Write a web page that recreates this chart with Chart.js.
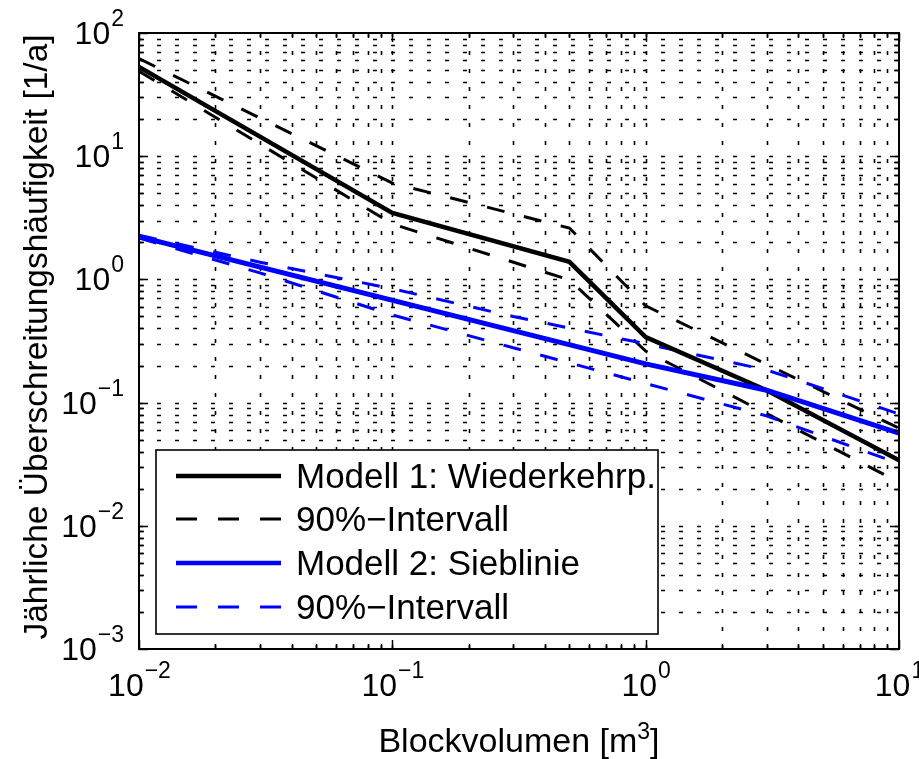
<!DOCTYPE html>
<html>
<head>
<meta charset="utf-8">
<script src="https://cdn.jsdelivr.net/npm/chart.js@4.4.1/dist/chart.umd.min.js"></script>
<style>
  html, body { margin: 0; padding: 0; background: #fff; }
  canvas { display: block; }
</style>
</head>
<body>
<canvas id="chart" width="919" height="759"></canvas>
<script>
// Modell 1 (Wiederkehrperioden) – Blockvolumen [m3] vs. Häufigkeit [1/a]
const volModel1 = [0.01, 0.1, 0.5, 1, 3, 10];
const freqModel1 = [53, 3.46, 1.39, 0.34, 0.126, 0.034];
const volModel1Band = [0.01, 0.1, 0.5, 1, 10];
const freqModel1Upper = [62, 6.05, 2.61, 0.61, 0.062];
const freqModel1Lower = [49, 2.82, 0.99, 0.262, 0.0226];

// Modell 2 (Sieblinie)
const volModel2 = [0.01, 1, 3, 10];
const freqModel2 = [2.22, 0.206, 0.126, 0.0566];
const volModel2Band = [0.01, 0.03, 0.1, 0.3, 1, 3, 10];
const freqModel2Upper = [2.28, 1.38, 0.84, 0.50, 0.30, 0.184, 0.081];
const freqModel2Lower = [2.17, 1.13, 0.515, 0.279, 0.143, 0.078, 0.032];

const legendLabels = ['Modell 1: Wiederkehrp.', '90%\u2212Intervall', 'Modell 2: Sieblinie', '90%\u2212Intervall'];
const xDecades = [-2, -1, 0, 1];
const yDecades = [-3, -2, -1, 0, 1, 2];

const FONT = '"Liberation Sans", Arial, Helvetica, sans-serif';
const BLUE = '#0000ff';
const DASH = [18, 20];

const pts = (xs, ys) => xs.map((x, i) => ({ x: x, y: ys[i] }));

// tick positions (major + minor) for each decade
function logTicks(decades) {
  const out = [];
  for (let i = 0; i < decades.length; i++) {
    const base = Math.pow(10, decades[i]);
    out.push({ v: base, major: true });
    if (i < decades.length - 1) {
      for (let k = 2; k <= 9; k++) out.push({ v: k * base, major: false });
    }
  }
  return out;
}

// "10" with a raised exponent, e.g. 10^-2
function drawPower(ctx, exp, x, baseline, align) {
  const expText = exp < 0 ? '\u2212' + Math.abs(exp) : String(exp);
  ctx.font = '32px ' + FONT;
  const wBase = ctx.measureText('10').width;
  ctx.font = '23px ' + FONT;
  const wExp = ctx.measureText(expText).width;
  const w = wBase + wExp;
  const left = align === 'center' ? x - w / 2 : x - w;
  ctx.textAlign = 'left';
  ctx.textBaseline = 'alphabetic';
  ctx.font = '32px ' + FONT;
  ctx.fillText('10', left, baseline);
  ctx.font = '23px ' + FONT;
  ctx.fillText(expText, left + wBase + 1, baseline - 18);
}

const frame = {
  id: 'frame',
  beforeDatasetsDraw(chart) {
    const { ctx, chartArea: a, scales: { x, y } } = chart;
    ctx.save();
    ctx.strokeStyle = '#000';
    ctx.lineWidth = 1.6;
    ctx.setLineDash([4, 14]);
    logTicks(xDecades).forEach(t => {
      const px = Math.round(x.getPixelForValue(t.v)) + 0.5;
      if (px <= a.left + 1 || px >= a.right - 1) return;
      ctx.beginPath();
      ctx.moveTo(px, a.bottom);
      ctx.lineTo(px, a.top);
      ctx.stroke();
    });
    logTicks(yDecades).forEach(t => {
      const py = Math.round(y.getPixelForValue(t.v)) + 0.5;
      if (py <= a.top + 1 || py >= a.bottom - 1) return;
      ctx.beginPath();
      ctx.moveTo(a.left, py);
      ctx.lineTo(a.right, py);
      ctx.stroke();
    });
    ctx.restore();
  },
  afterDatasetsDraw(chart) {
    const { ctx, chartArea: a, scales: { x, y } } = chart;
    ctx.save();

    // legend box
    const box = { l: 156, t: 450, r: 658, b: 634 };
    ctx.fillStyle = '#fff';
    ctx.fillRect(box.l, box.t, box.r - box.l, box.b - box.t);
    ctx.strokeStyle = '#000';
    ctx.lineWidth = 1.6;
    ctx.strokeRect(box.l, box.t, box.r - box.l, box.b - box.t);
    const rows = [476, 519, 563, 607];
    const styles = [
      { c: '#000', w: 4.5, d: [] },
      { c: '#000', w: 3, d: [21, 21] },
      { c: BLUE, w: 4.5, d: [] },
      { c: BLUE, w: 3, d: [21, 21] }
    ];
    rows.forEach((ry, i) => {
      const s = styles[i];
      ctx.strokeStyle = s.c;
      ctx.lineWidth = s.w;
      ctx.setLineDash(s.d);
      ctx.beginPath();
      ctx.moveTo(176, ry);
      ctx.lineTo(281, ry);
      ctx.stroke();
      ctx.setLineDash([]);
      ctx.fillStyle = '#000';
      ctx.font = '35px ' + FONT;
      ctx.textAlign = 'left';
      ctx.textBaseline = 'alphabetic';
      ctx.fillText(legendLabels[i], 296, ry + 12);
    });

    // axes box and inward ticks
    ctx.setLineDash([]);
    ctx.strokeStyle = '#000';
    ctx.lineWidth = 2;
    ctx.strokeRect(a.left, a.top, a.right - a.left, a.bottom - a.top);
    ctx.lineWidth = 1.5;
    logTicks(xDecades).forEach(t => {
      const px = Math.round(x.getPixelForValue(t.v)) + 0.5;
      const len = t.major ? 9 : 5;
      ctx.beginPath();
      ctx.moveTo(px, a.bottom);
      ctx.lineTo(px, a.bottom - len);
      ctx.moveTo(px, a.top);
      ctx.lineTo(px, a.top + len);
      ctx.stroke();
    });
    logTicks(yDecades).forEach(t => {
      const py = Math.round(y.getPixelForValue(t.v)) + 0.5;
      const len = t.major ? 9 : 5;
      ctx.beginPath();
      ctx.moveTo(a.left, py);
      ctx.lineTo(a.left + len, py);
      ctx.moveTo(a.right, py);
      ctx.lineTo(a.right - len, py);
      ctx.stroke();
    });

    // tick labels
    ctx.fillStyle = '#000';
    xDecades.forEach(e => {
      drawPower(ctx, e, x.getPixelForValue(Math.pow(10, e)), a.bottom + 47, 'center');
    });
    yDecades.forEach(e => {
      drawPower(ctx, e, a.left - 16, y.getPixelForValue(Math.pow(10, e)) + 11, 'right');
    });

    // x axis title with superscript
    ctx.font = '34px ' + FONT;
    const t1 = 'Blockvolumen [m';
    const w1 = ctx.measureText(t1).width;
    const w3 = ctx.measureText(']').width;
    ctx.font = '23px ' + FONT;
    const w2 = ctx.measureText('3').width;
    const cx = (a.left + a.right) / 2;
    const tx = cx - (w1 + w2 + w3) / 2;
    ctx.textAlign = 'left';
    ctx.font = '34px ' + FONT;
    ctx.fillText(t1, tx, 752);
    ctx.font = '23px ' + FONT;
    ctx.fillText('3', tx + w1, 739);
    ctx.font = '34px ' + FONT;
    ctx.fillText(']', tx + w1 + w2, 752);

    // y axis title
    ctx.translate(47, (a.top + a.bottom) / 2 - 4);
    ctx.rotate(-Math.PI / 2);
    ctx.textAlign = 'center';
    ctx.textBaseline = 'alphabetic';
    ctx.font = '33.5px ' + FONT;
    ctx.fillText('Jährliche Überschreitungshäufigkeit [1/a]', 0, 0);

    ctx.restore();
  }
};

new Chart(document.getElementById('chart'), {
  type: 'line',
  data: {
    datasets: [
      { label: legendLabels[0], data: pts(volModel1, freqModel1), borderColor: '#000', borderWidth: 4.5, order: 1 },
      { label: legendLabels[1], data: pts(volModel1Band, freqModel1Upper), borderColor: '#000', borderWidth: 3, borderDash: DASH, order: 3 },
      { label: legendLabels[1], data: pts(volModel1Band, freqModel1Lower), borderColor: '#000', borderWidth: 3, borderDash: DASH, order: 3 },
      { label: legendLabels[2], data: pts(volModel2, freqModel2), borderColor: BLUE, borderWidth: 5, order: 0 },
      { label: legendLabels[3], data: pts(volModel2Band, freqModel2Upper), borderColor: BLUE, borderWidth: 3, borderDash: DASH, order: 2 },
      { label: legendLabels[3], data: pts(volModel2Band, freqModel2Lower), borderColor: BLUE, borderWidth: 3, borderDash: DASH, order: 2 }
    ]
  },
  options: {
    responsive: false,
    animation: false,
    devicePixelRatio: 1,
    layout: { padding: { left: 139, right: 20, top: 33, bottom: 110 } },
    elements: {
      point: { radius: 0 },
      line: { tension: 0, fill: false, borderCapStyle: 'butt' }
    },
    plugins: { legend: { display: false }, tooltip: { enabled: false } },
    scales: {
      x: { type: 'logarithmic', min: 0.01, max: 10, display: false },
      y: { type: 'logarithmic', min: 0.001, max: 100, display: false }
    }
  },
  plugins: [frame]
});
</script>
</body>
</html>
